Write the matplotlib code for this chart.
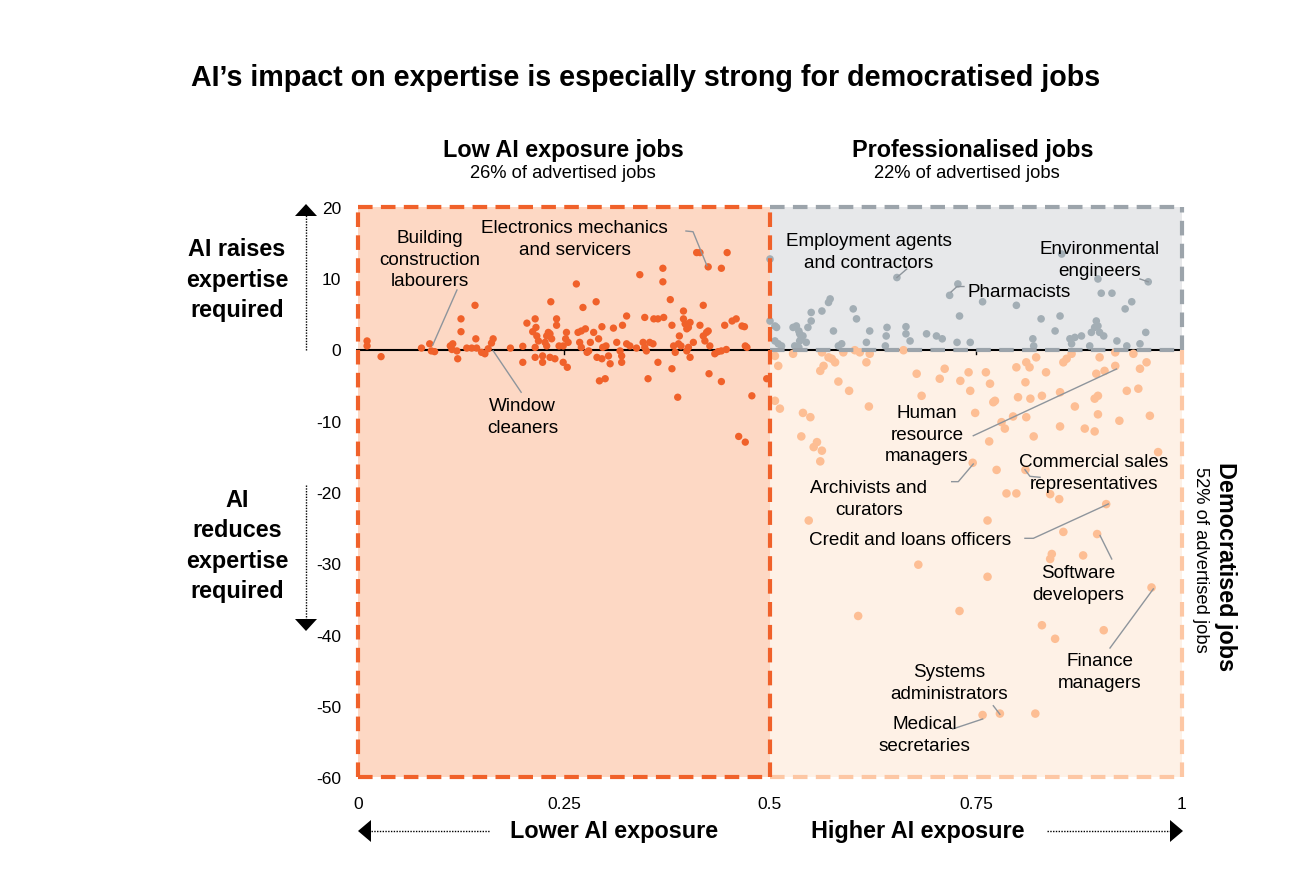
import matplotlib
matplotlib.use("Agg")
import matplotlib.pyplot as plt
from matplotlib.patches import Rectangle, Polygon
from matplotlib.lines import Line2D

plt.rcParams['font.family'] = ['Liberation Sans', 'DejaVu Sans']

# ---------------- data ----------------
low_x = [0.011, 0.011, 0.028, 0.077, 0.087, 0.089, 0.093, 0.112, 0.114, 0.115, 0.120, 0.121, 0.125, 0.125, 0.142,
         0.132, 0.138, 0.144, 0.143, 0.150, 0.154, 0.158, 0.162, 0.164, 0.185, 0.200, 0.200, 0.205, 0.215, 0.212,
         0.216, 0.217, 0.219, 0.215, 0.215, 0.224, 0.224, 0.229, 0.231, 0.233, 0.235, 0.227, 0.229, 0.234, 0.241,
         0.241, 0.233, 0.239, 0.244, 0.249, 0.252, 0.255, 0.253, 0.249, 0.254, 0.265, 0.267, 0.271, 0.273, 0.276,
         0.269, 0.271, 0.278, 0.280, 0.282, 0.286, 0.289, 0.292, 0.293, 0.296, 0.300, 0.290, 0.296, 0.297, 0.301,
         0.304, 0.306, 0.310, 0.314, 0.318, 0.320, 0.321, 0.326, 0.320, 0.326, 0.330, 0.338, 0.342, 0.346, 0.348,
         0.348, 0.350, 0.352, 0.354, 0.358, 0.359, 0.364, 0.371, 0.370, 0.370, 0.364, 0.379, 0.381, 0.381, 0.383,
         0.385, 0.389, 0.392, 0.390, 0.388, 0.395, 0.395, 0.397, 0.399, 0.401, 0.403, 0.399, 0.401, 0.407, 0.403,
         0.415, 0.419, 0.419, 0.421, 0.423, 0.425, 0.427, 0.426, 0.411, 0.415, 0.425, 0.441, 0.448, 0.433, 0.437,
         0.441, 0.447, 0.441, 0.445, 0.454, 0.459, 0.466, 0.469, 0.470, 0.472, 0.478, 0.496, 0.462, 0.470]
low_y = [1.2, 0.5, -1.0, 0.2, 0.8, -0.2, -0.3, 0.5, 0.0, 0.8, -0.2, -1.3, 4.3, 2.5, 6.2,
         0.2, 0.2, 0.2, 1.5, -0.4, -0.6, 0.1, 0.9, 1.5, 0.2, 0.45, -1.8, 3.7, 4.3, 2.5,
         3.1, 1.9, 1.2, 0.3, -1.1, -0.9, -1.8, 1.9, 2.4, 2.2, 1.5, 1.0, 0.5, 6.7, 4.3,
         3.4, -1.1, -1.3, 0.5, 0.5, 1.5, 1.0, 2.4, -1.8, -2.5, 9.2, 2.4, 2.6, 5.9, 2.9,
         1.0, 0.3, -0.4, -0.2, 1.0, 2.4, 6.7, 1.5, -4.4, 3.2, -4.1, -1.1, -1.3, 0.3, 0.5,
         -0.9, -2.0, 3.0, 1.0, -0.2, -0.9, 3.4, 4.7, -1.8, 0.8, 0.5, 0.2, 10.5, 1.0, 0.3,
         4.5, -0.2, -4.1, 1.0, 0.8, 4.3, 4.3, 4.5, 11.4, 9.5, -1.8, 7.0, 3.4, -2.7, 0.5,
         -0.4, 0.8, 0.5, 1.9, -6.7, 5.4, 4.3, 3.6, 2.9, 3.1, 3.8, -0.2, 0.3, 1.0, -1.1,
         3.4, 6.2, 1.9, 1.2, 2.4, 2.6, 0.5, -3.4, 13.6, 13.6, 11.6, 11.4, 13.6, -0.6, -0.3,
         -0.2, 0.0, -4.5, 3.4, 4.0, 4.3, 3.3, 3.2, 0.5, 0.3, -6.5, -4.1, -12.2, -13.0]

prof_x = [0.500, 0.500, 0.506, 0.508, 0.506, 0.510, 0.514, 0.528, 0.532, 0.535, 0.536, 0.538, 0.540, 0.544, 0.546,
          0.550, 0.550, 0.563, 0.571, 0.573, 0.530, 0.535, 0.536, 0.577, 0.583, 0.587, 0.601, 0.605, 0.617, 0.621,
          0.642, 0.641, 0.640, 0.654, 0.665, 0.665, 0.670, 0.690, 0.702, 0.709, 0.727, 0.728, 0.718, 0.730, 0.743,
          0.758, 0.799, 0.819, 0.820, 0.829, 0.846, 0.852, 0.854, 0.864, 0.866, 0.870, 0.878, 0.888, 0.890, 0.894,
          0.896, 0.898, 0.900, 0.905, 0.898, 0.902, 0.915, 0.921, 0.931, 0.939, 0.933, 0.949, 0.956, 0.959]
prof_y = [12.7, 4.0, 3.3, 3.1, 1.2, 0.8, 0.5, 3.1, 3.3, 2.6, 2.2, 1.7, 1.9, 1.0, 3.1,
          4.0, 5.2, 5.4, 6.6, 7.1, 0.5, 0.3, 1.2, 2.6, 0.5, 0.8, 5.7, 4.3, 1.0, 2.6,
          3.1, 1.9, 0.5, 10.1, 3.2, 2.2, 1.2, 2.2, 1.9, 1.5, 1.0, 9.2, 7.6, 4.7, 1.0,
          6.7, 6.2, 1.5, 0.5, 4.3, 2.6, 4.7, 13.4, 1.5, 0.8, 1.7, 1.9, 0.5, 2.4, 3.1,
          4.0, 3.3, 2.4, 1.9, 9.9, 7.9, 7.9, 1.2, 5.7, 6.7, 0.5, 0.8, 2.4, 9.5]

demo_x = [0.506, 0.510, 0.506, 0.512, 0.538, 0.540, 0.549, 0.553, 0.557, 0.563, 0.561, 0.547, 0.528, 0.563, 0.561,
          0.565, 0.571, 0.575, 0.579, 0.583, 0.589, 0.596, 0.603, 0.609, 0.617, 0.621, 0.620, 0.662, 0.678, 0.684,
          0.706, 0.712, 0.731, 0.741, 0.743, 0.749, 0.762, 0.767, 0.766, 0.771, 0.773, 0.775, 0.781, 0.785, 0.787,
          0.795, 0.799, 0.799, 0.801, 0.810, 0.811, 0.811, 0.815, 0.816, 0.820, 0.823, 0.830, 0.835, 0.840, 0.851,
          0.852, 0.852, 0.856, 0.860, 0.866, 0.870, 0.882, 0.894, 0.894, 0.898, 0.898, 0.900, 0.896, 0.906, 0.919,
          0.919, 0.924, 0.933, 0.941, 0.947, 0.949, 0.957, 0.961, 0.971, 0.908, 0.897, 0.856, 0.764, 0.746, 0.810,
          0.842, 0.840, 0.880, 0.680, 0.764, 0.963, 0.607, 0.730, 0.830, 0.846, 0.905, 0.758, 0.779, 0.822]
demo_y = [-0.9, -2.3, -7.2, -8.3, -12.2, -8.9, -9.5, -13.7, -13.0, -14.2, -15.7, -24.0, -0.6, -0.4, -3.0,
          -2.3, -1.1, -1.3, -1.8, -4.5, -0.4, -5.8, -0.1, -0.4, -1.8, -0.6, -8.0, -0.1, -3.4, -6.5,
          -4.1, -2.7, -4.4, -3.2, -5.8, -8.9, -3.2, -4.8, -12.9, -7.4, -7.2, -16.9, -10.2, -11.1, -20.2,
          -9.4, -20.2, -2.5, -6.7, -4.6, -1.8, -9.5, -2.5, -6.9, -12.2, -1.1, -6.5, -3.2, -20.3, -21.0,
          -6.0, -10.8, -1.8, -1.3, -0.6, -8.0, -11.1, -11.5, -6.9, -6.5, -9.1, -1.1, -3.4, -3.0, -2.3,
          -0.4, -10.0, -5.8, -0.6, -5.5, -2.7, -1.8, -9.3, -14.4, -21.7, -25.9, -25.6, -24.0, -15.9, -16.9,
          -28.7, -29.4, -28.9, -30.2, -31.9, -33.4, -37.4, -36.7, -38.7, -40.6, -39.4, -51.3, -51.1, -51.1]

x_ticks = [0, 0.25, 0.5, 0.75, 1]
x_tick_labels = ["0", "0.25", "0.5", "0.75", "1"]
y_ticks = [20, 10, 0, -10, -20, -30, -40, -50, -60]
y_tick_labels = ["20", "10", "0", "-10", "-20", "-30", "-40", "-50", "-60"]

# labelled jobs: text, text position, leader polyline
labels = [
    ("Building\nconstruction\nlabourers", (0.087, 12.7), [(0.1201, 8.35), (0.0907, 0.63)]),
    ("Electronics mechanics\nand servicers", (0.263, 15.58), [(0.398, 16.63), (0.4066, 16.53), (0.4235, 11.76)]),
    ("Window\ncleaners", (0.200, -9.4), [(0.164, -0.17), (0.198, -6.0)]),
    ("Employment agents\nand contractors", (0.620, 13.8), [(0.666, 11.3), (0.654, 10.1)]),
    ("Environmental\nengineers", (0.9005, 12.6), [(0.949, 9.9), (0.959, 9.5)]),
    ("Human\nresource\nmanagers", (0.6905, -11.86), [(0.7467, -12.1), (0.9205, -2.74)]),
    ("Archivists and\ncurators", (0.620, -20.9), [(0.7205, -18.55), (0.7285, -18.55), (0.7467, -16.07)]),
    ("Commercial sales\nrepresentatives", (0.893, -17.2), [(0.8094, -16.87), (0.8155, -17.8), (0.8277, -17.94)]),
    ("Credit and loans officers", (0.670, -26.7), [(0.8094, -26.5), (0.8196, -26.5), (0.9106, -21.68)]),
    ("Software\ndevelopers", (0.874, -32.8), [(0.9005, -26.1), (0.9147, -29.4)]),
    ("Finance\nmanagers", (0.9005, -45.2), [(0.9126, -41.9), (0.9652, -33.6)]),
    ("Systems\nadministrators", (0.717, -46.7), [(0.771, -50.0), (0.779, -51.2)]),
    ("Medical\nsecretaries", (0.688, -54.0), [(0.7217, -53.26), (0.7581, -51.86)]),
]

# ---------------- colours ----------------
C_LOW_FILL = "#FDD8C4"
C_LOW_EDGE = "#F0612A"
C_LOW_DOT = "#F0612A"
C_PRO_FILL = "#E7E8EA"
C_PRO_EDGE = "#9CA4AB"
C_PRO_DOT = "#A3AEB5"
C_DEM_FILL = "#FEF1E6"
C_DEM_EDGE = "#FDC7A4"
C_DEM_DOT = "#FDBE94"
C_LEADER = "#8E959C"

ANN_FS = 13.6
HEAD_FS = 16.8
SUB_FS = 13.2

W, H = 1300, 870
fig = plt.figure(figsize=(13, 8.7), dpi=100)
ax = fig.add_axes([358 / W, 1 - 778 / H, 824 / W, 570 / H])
ax.set_xlim(0, 1)
ax.set_ylim(-60, 20)
for s in ax.spines.values():
    s.set_visible(False)

# regions
ax.add_patch(Rectangle((0, -60), 0.5, 80, facecolor=C_LOW_FILL, edgecolor="none", zorder=0))
ax.add_patch(Rectangle((0.5, 0), 0.5, 20, facecolor=C_PRO_FILL, edgecolor="none", zorder=0))
ax.add_patch(Rectangle((0.5, -60), 0.5, 60, facecolor=C_DEM_FILL, edgecolor="none", zorder=0))

# zero line with ticks
ax.plot([-0.003, 1.0], [0, 0], color="black", lw=1.5, zorder=1, clip_on=False, solid_capstyle="butt")
for xt in x_ticks:
    ax.plot([xt, xt], [0, -0.6], color="black", lw=1.0, zorder=1, clip_on=False)

# points
ax.scatter(low_x, low_y, s=28, color=C_LOW_DOT, edgecolor="none", zorder=2, clip_on=False)
ax.scatter(prof_x, prof_y, s=30, color=C_PRO_DOT, edgecolor="none", zorder=2, clip_on=False)
ax.scatter(demo_x, demo_y, s=38, color=C_DEM_DOT, edgecolor="none", zorder=2, clip_on=False)

# dashed borders
def dashed(xs, ys, color, lw=3.0, z=3):
    ax.plot(xs, ys, color=color, lw=lw, dashes=(3.5, 2.0), zorder=z, clip_on=False,
            solid_capstyle="butt", dash_capstyle="butt")

dashed([0.5, 1.0], [0, 0], C_PRO_EDGE, z=3)
dashed([0.5, 1.0], [20, 20], C_PRO_EDGE, z=3)
dashed([1.0, 1.0], [0, 20], C_PRO_EDGE, z=3)
dashed([1.0, 1.0], [-60, 0], C_DEM_EDGE, z=3)
dashed([0.5, 1.0], [-60, -60], C_DEM_EDGE, z=3)
dashed([0, 0.5], [20, 20], C_LOW_EDGE, z=4)
dashed([0, 0], [-60, 20], C_LOW_EDGE, z=4)
dashed([0, 0.5], [-60, -60], C_LOW_EDGE, z=4)
dashed([0.5, 0.5], [-60, 20], C_LOW_EDGE, z=4)

# tick labels
ax.set_xticks(x_ticks)
ax.set_xticklabels(x_tick_labels, fontsize=12.5)
ax.set_yticks(y_ticks)
ax.set_yticklabels(y_tick_labels, fontsize=12.5)
ax.tick_params(axis="both", length=0)
ax.tick_params(axis="x", pad=14)
ax.tick_params(axis="y", pad=12)

# annotations
for txt, (tx, ty), pts in labels:
    ax.text(tx, ty, txt, ha="center", va="center", fontsize=ANN_FS, color="black",
            linespacing=1.38, zorder=6)
    ax.plot([p[0] for p in pts], [p[1] for p in pts], color=C_LEADER, lw=1.0, zorder=5)
ax.text(0.740, 8.2, "Pharmacists", ha="left", va="center", fontsize=ANN_FS, zorder=6)
ax.plot([0.7197, 0.727, 0.7354], [8.07, 8.84, 8.84], color=C_LEADER, lw=1.0, zorder=5)

# figure-level text
def F(px, py):
    return (px / W, 1 - py / H)

fig.text(*F(646, 78), "AI’s impact on expertise is especially strong for democratised jobs",
         ha="center", va="center", fontsize=20.6, fontweight="bold")
fig.text(*F(563, 151), "Low AI exposure jobs", ha="center", va="center", fontsize=HEAD_FS, fontweight="bold")
fig.text(*F(563, 174), "26% of advertised jobs", ha="center", va="center", fontsize=SUB_FS)
fig.text(*F(973, 151), "Professionalised jobs", ha="center", va="center", fontsize=HEAD_FS, fontweight="bold")
fig.text(*F(967, 174), "22% of advertised jobs", ha="center", va="center", fontsize=SUB_FS)
fig.text(*F(1225, 567), "Democratised jobs", ha="center", va="center", fontsize=HEAD_FS,
         fontweight="bold", rotation=-90)
fig.text(*F(1201, 560), "52% of advertised jobs", ha="center", va="center", fontsize=SUB_FS, rotation=-90)

fig.text(*F(237, 280), "AI raises\nexpertise\nrequired", ha="center", va="center", fontsize=HEAD_FS,
         fontweight="bold", linespacing=1.4)
fig.text(*F(237, 546), "AI\nreduces\nexpertise\nrequired", ha="center", va="center", fontsize=HEAD_FS,
         fontweight="bold", linespacing=1.4)
fig.text(*F(614, 832), "Lower AI exposure", ha="center", va="center", fontsize=HEAD_FS, fontweight="bold")
fig.text(*F(918, 832), "Higher AI exposure", ha="center", va="center", fontsize=HEAD_FS, fontweight="bold")

# arrows
def fline(p1, p2):
    fig.add_artist(Line2D([p1[0], p2[0]], [p1[1], p2[1]], transform=fig.transFigure,
                          color="black", lw=1.0, linestyle=(0, (1, 1))))

def ftri(pts):
    fig.add_artist(Polygon(pts, closed=True, transform=fig.transFigure, facecolor="black",
                           edgecolor="none"))

fline(F(306, 351), F(306, 216))
ftri([F(295, 217), F(317, 217), F(306, 205)])
fline(F(306, 486), F(306, 621))
ftri([F(295, 620), F(317, 620), F(306, 632)])
fline(F(371, 832), F(490, 832))
ftri([F(371, 821), F(371, 843), F(358, 832)])
fline(F(1047, 832), F(1170, 832))
ftri([F(1170, 821), F(1170, 843), F(1183, 832)])

fig.savefig("out.png", dpi=100)
